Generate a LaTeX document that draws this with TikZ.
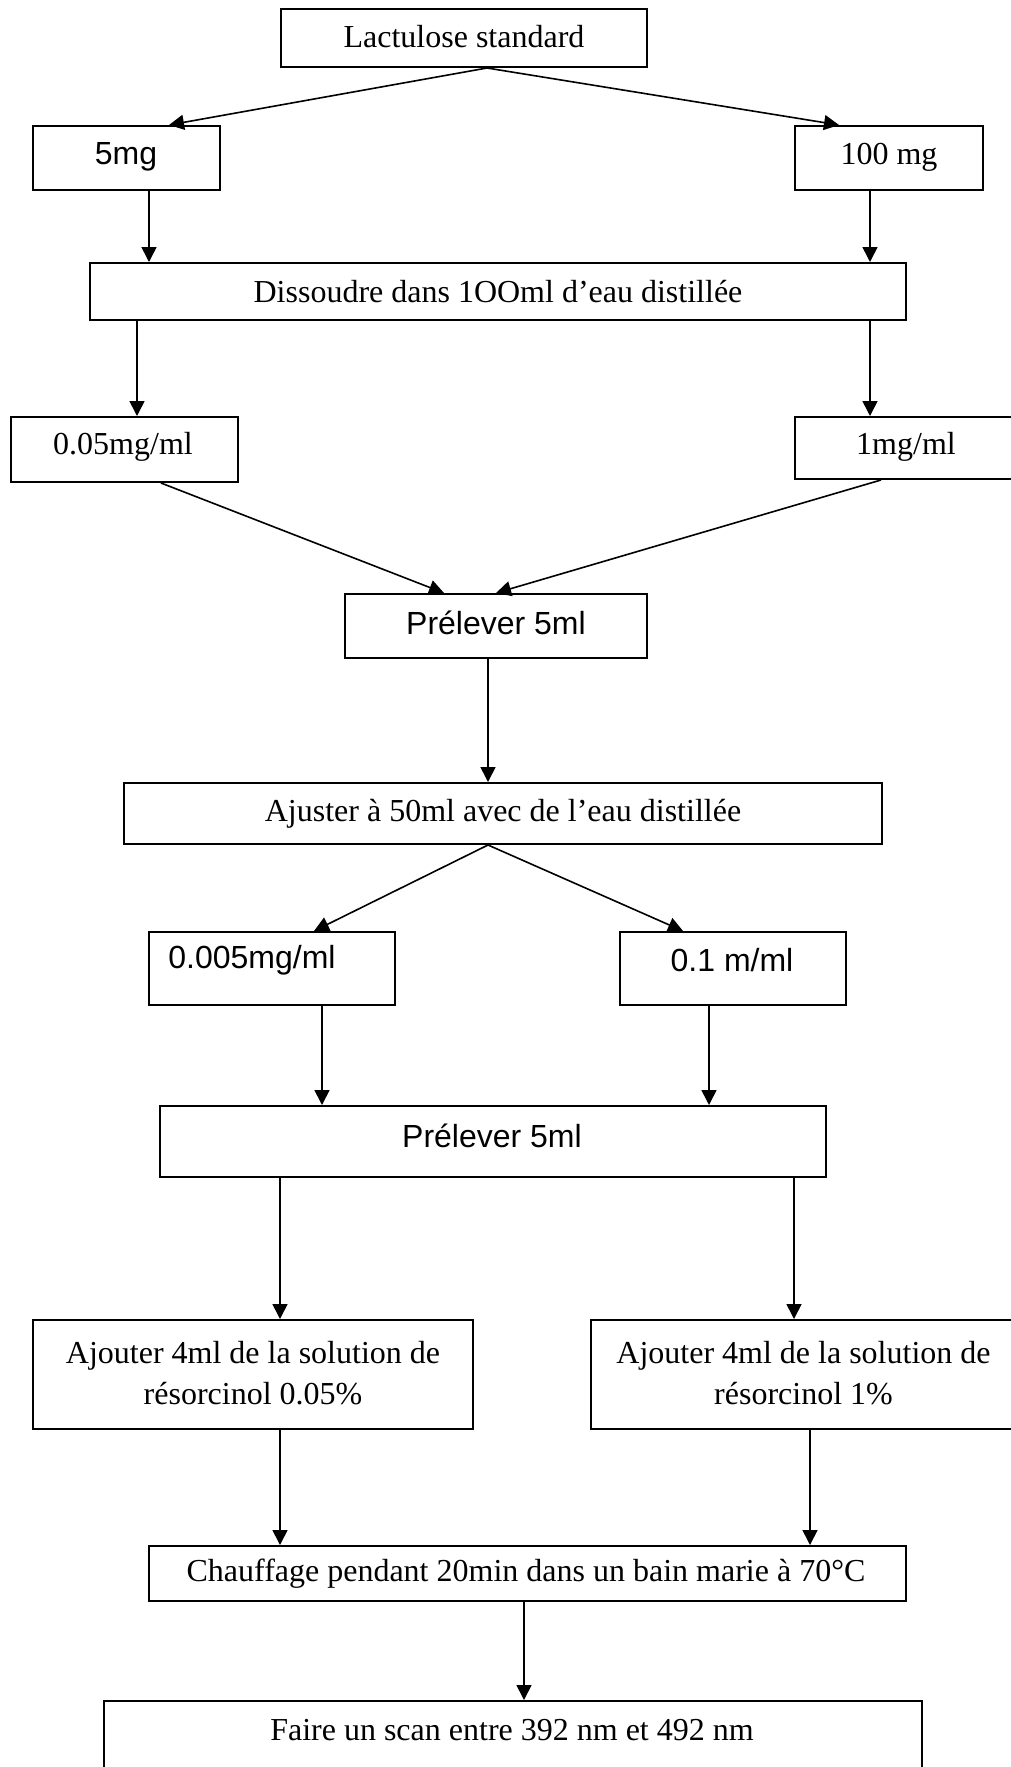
\documentclass[tikz,border=0pt]{standalone}
\usepackage{fontspec}
\setmainfont{Liberation Serif}
\newfontfamily\arialfont{Liberation Sans}
\usetikzlibrary{arrows.meta}
\begin{document}
\begin{tikzpicture}[x=1pt,y=-1pt,
  box/.style={draw=black, line width=2pt, rectangle, inner sep=0pt, fill=white},
  txt/.style={inner sep=0pt, font=\fontsize{32}{41.5}\selectfont},
  stxt/.style={inner sep=0pt, font=\arialfont\fontsize{32}{41.5}\selectfont},
  arr/.style={line width=1.6pt, -{Triangle[length=15pt,width=15pt]}},
]
\useasboundingbox[fill=white] (0,0) rectangle (1010,1767);

% boxes
\node[box, minimum width=366, minimum height=58] (lac) at (464,38) {};
\node[box, minimum width=187, minimum height=64] (m5) at (126.5,158) {};
\node[box, minimum width=188, minimum height=64] (m100) at (889,158) {};
\node[box, minimum width=816, minimum height=57] (diss) at (498,291.5) {};
\node[box, minimum width=227, minimum height=65] (c005) at (124.5,449.5) {};
\node[box, minimum width=222, minimum height=62] (c1) at (906,448) {};
\node[box, minimum width=302, minimum height=64] (pre1) at (496,626) {};
\node[box, minimum width=758, minimum height=61] (aju) at (503,813.5) {};
\node[box, minimum width=246, minimum height=73] (c0005) at (272,968.5) {};
\node[box, minimum width=226, minimum height=73] (c01) at (733,968.5) {};
\node[box, minimum width=666, minimum height=71] (pre2) at (493,1141.5) {};
\node[box, minimum width=440, minimum height=109] (ajL) at (253,1374.5) {};
\node[box, minimum width=425, minimum height=109] (ajR) at (803.5,1374.5) {};
\node[box, minimum width=757, minimum height=55] (chauf) at (527.5,1573.5) {};
\node[box, minimum width=818, minimum height=89] (faire) at (513,1745.5) {};

% texts
\node[txt] (tlac) at (464,37) {Lactulose standard};
\node[stxt] (tm5) at (126,157) {5mg};
\node[txt] (tm100) at (889,157) {100 mg};
\node[txt] (tdiss) at (498,292) {Dissoudre dans 1OOml d’eau distillée};
\node[txt] (tc005) at (123,447) {0.05mg/ml};
\node[txt] (tc1) at (906,447) {1mg/ml};
\node[stxt] (tpre1) at (496,623) {Prélever 5ml};
\node[txt] (taju) at (503,814) {Ajuster à 50ml avec de l’eau distillée};
\node[stxt] (tc0005) at (252,960) {0.005mg/ml};
\node[stxt] (tc01) at (732,960) {0.1 m/ml};
\node[stxt] (tpre2) at (492,1136) {Prélever 5ml};
\node[txt, align=center] (tajL) at (253,1373) {Ajouter 4ml de la solution de\\résorcinol 0.05\%};
\node[txt, align=center] (tajR) at (803.5,1373) {Ajouter 4ml de la solution de\\résorcinol 1\%};
\node[txt] (tchauf) at (526,1574) {Chauffage pendant 20min dans un bain marie à 70°C};
\node[txt] (tfaire) at (512,1730) {Faire un scan entre 392 nm et 492 nm};

% connectors
\draw[arr] ([xshift=23pt]lac.south) -- ([xshift=42.5pt]m5.north);
\draw[arr] ([xshift=23pt]lac.south) -- ([xshift=-50pt]m100.north);
\draw[arr] ([xshift=22.5pt]m5.south) -- ([xshift=-349pt]diss.north);
\draw[arr] ([xshift=-19pt]m100.south) -- ([xshift=372pt]diss.north);
\draw[arr] ([xshift=-361pt]diss.south) -- ([xshift=12.5pt]c005.north);
\draw[arr] ([xshift=372pt]diss.south) -- ([xshift=-36pt]c1.north);
\draw[arr] ([xshift=36.5pt]c005.south) -- ([xshift=-52pt]pre1.north);
\draw[arr] ([xshift=-25pt]c1.south) -- ([xshift=0pt]pre1.north);
\draw[arr] ([xshift=-8pt]pre1.south) -- ([xshift=-15pt]aju.north);
\draw[arr] ([xshift=-15pt]aju.south) -- ([xshift=42pt]c0005.north);
\draw[arr] ([xshift=-15pt]aju.south) -- ([xshift=-50pt]c01.north);
\draw[arr] ([xshift=50pt]c0005.south) -- ([xshift=-171pt]pre2.north);
\draw[arr] ([xshift=-24pt]c01.south) -- ([xshift=216pt]pre2.north);
\draw[arr] ([xshift=-213pt]pre2.south) -- ([xshift=27pt]ajL.north);
\draw[arr] ([xshift=301pt]pre2.south) -- ([xshift=-9.5pt]ajR.north);
\draw[arr] ([xshift=27pt]ajL.south) -- ([xshift=-247.5pt]chauf.north);
\draw[arr] ([xshift=6.5pt]ajR.south) -- ([xshift=282.5pt]chauf.north);
\draw[arr] ([xshift=-3.5pt]chauf.south) -- ([xshift=11pt]faire.north);
\end{tikzpicture}
\end{document}
